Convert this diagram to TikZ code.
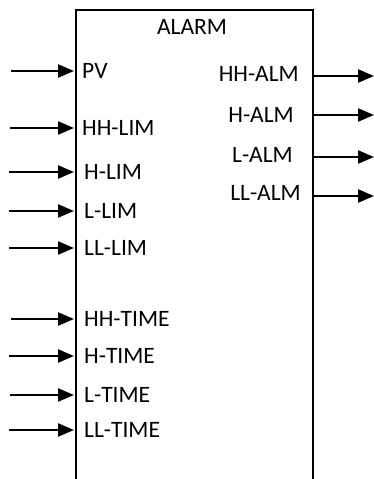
\documentclass[tikz,border=0pt]{standalone}
\usepackage{fontspec}
\setmainfont{Carlito}
\usetikzlibrary{arrows.meta}
\begin{document}
\begin{tikzpicture}[x=1pt,y=-1pt,
  pin/.style={-{Triangle[length=16pt,width=13pt]},line width=2.4pt},
  lbl/.style={inner sep=0pt,font=\fontsize{23.5}{23.5}\selectfont},
  frame/.style={line width=2.2pt}]
\useasboundingbox (0,0) rectangle (374,479);
% block outline, open at the bottom
\coordinate (bl) at (76,481);
\coordinate (tl) at (76,10);
\coordinate (tr) at (313,10);
\coordinate (br) at (313,481);
\draw[frame] (bl) -- (tl) -- (tr) -- (br);
\node[lbl] (title) at (192,27) {ALARM};
% inputs
\foreach \nm/\txt/\yy/\tx/\sx in {pv/PV/71/82/11, hhlim/HH-LIM/128/82/10, hlim/H-LIM/172/84/9,
    llim/L-LIM/211/84/9, lllim/LL-LIM/248/84/9, hhtime/HH-TIME/319/84/11,
    htime/H-TIME/356/84/9, ltime/L-TIME/395/84/10, lltime/LL-TIME/430/84/9}{
  \node[lbl,anchor=west] (\nm) at (\tx,\yy) {\txt};
  \coordinate (\nm-src) at (\sx,\yy);
  \coordinate (\nm-in) at (74,\yy);
  \draw[pin] (\nm-src) -- (\nm-in);
}
% outputs
\foreach \nm/\txt/\yy/\tx/\ay in {hhalm/HH-ALM/74/299/76, halm/H-ALM/115/294/115,
    lalm/L-ALM/155/293/157, llalm/LL-ALM/193/301/196}{
  \node[lbl,anchor=east] (\nm) at (\tx,\yy) {\txt};
  \coordinate (\nm-out) at (313,\ay);
  \coordinate (\nm-dst) at (374,\ay);
  \draw[pin] (\nm-out) -- (\nm-dst);
}
\end{tikzpicture}
\end{document}
